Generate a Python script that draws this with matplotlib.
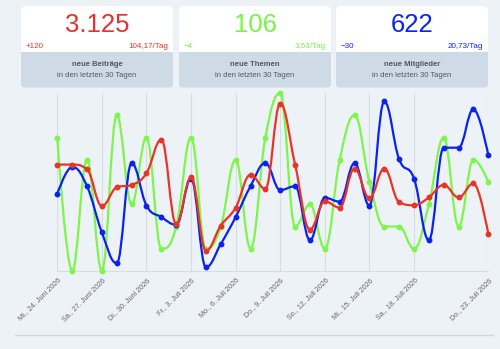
import matplotlib
matplotlib.use("Agg")
import matplotlib.pyplot as plt
import numpy as np
from matplotlib.path import Path
from matplotlib.patches import PathPatch, FancyBboxPatch, Rectangle

plt.rcParams["font.family"] = ["Liberation Sans", "DejaVu Sans"]

# daily values, 24. Juni 2026 .. 23. Juli 2026
posts = [136, 136, 130, 83, 107, 110, 125, 168, 60, 120,
         26, 58, 81, 123, 105, 214, 136, 53, 89, 81,
         131, 93, 131, 88, 84, 94, 110, 94, 112, 47]
topics = [6, 0, 5, 0, 7, 3, 6, 1, 2, 6,
          1, 2, 5, 1, 6, 8, 2, 3, 1, 5,
          7, 4, 2, 2, 1, 3, 6, 2, 5, 4]
members = [20, 27, 22, 10, 2, 28, 17, 14, 12, 24,
           1, 7, 14, 22, 28, 21, 22, 8, 19, 18,
           28, 17, 44, 29, 24, 8, 32, 32, 42, 30]

tick_days = [0, 3, 6, 9, 12, 15, 18, 21, 24, 29]
tick_labels = ["Mi., 24. Juni 2026", "Sa., 27. Juni 2026", "Di., 30. Juni 2026",
               "Fr., 3. Juli 2026", "Mo., 6. Juli 2026", "Do., 9. Juli 2026",
               "So., 12. Juli 2026", "Mi., 15. Juli 2026", "Sa., 18. Juli 2026",
               "Do., 23. Juli 2026"]

cards = [
    ("3.125", "+120", "104,17/Tag", "neue Beiträge", "#e8302a"),
    ("106", "\u22124", "3,53/Tag", "neue Themen", "#77f542"),
    ("622", "\u221230", "20,73/Tag", "neue Mitglieder", "#0a24f0"),
]

BG = "#edf2f7"
W, H = 500, 349

fig = plt.figure(figsize=(5, 3.49), dpi=100)
fig.patch.set_facecolor(BG)

# chart area in pixels
x0, x1 = 57.3, 488.3
ytop, ybot = 93, 271
rect = [x0 / W, (H - ybot) / H, (x1 - x0) / W, (ybot - ytop) / H]


def spline_path(xs, ys, smoothing=1.5):
    # highcharts-like spline: flat tangents at local peaks
    xs = list(map(float, xs))
    ys = list(map(float, ys))
    n = len(xs)
    denom = smoothing + 1
    lc = [None] * n
    rc = [None] * n
    for i in range(1, n - 1):
        x, y = xs[i], ys[i]
        lx, ly = xs[i - 1], ys[i - 1]
        nx, ny = xs[i + 1], ys[i + 1]
        lcx = (smoothing * x + lx) / denom
        lcy = (smoothing * y + ly) / denom
        rcx = (smoothing * x + nx) / denom
        rcy = (smoothing * y + ny) / denom
        corr = (rcy - lcy) * (rcx - x) / (rcx - lcx) + y - rcy
        lcy += corr
        rcy += corr
        if lcy > ly and lcy > y:
            lcy = max(ly, y)
            rcy = 2 * y - lcy
        elif lcy < ly and lcy < y:
            lcy = min(ly, y)
            rcy = 2 * y - lcy
        if rcy > ny and rcy > y:
            rcy = max(ny, y)
            lcy = 2 * y - rcy
        elif rcy < ny and rcy < y:
            rcy = min(ny, y)
            lcy = 2 * y - rcy
        lc[i] = (lcx, lcy)
        rc[i] = (rcx, rcy)
    verts = [(xs[0], ys[0])]
    codes = [Path.MOVETO]
    for i in range(1, n):
        a = rc[i - 1] or (xs[i - 1], ys[i - 1])
        b = lc[i] or (xs[i], ys[i])
        verts += [a, b, (xs[i], ys[i])]
        codes += [Path.CURVE4] * 3
    return Path(verts, codes)


days = np.arange(len(posts))
series = [(topics, 8, "#7ef54a"), (members, 46.2, "#0a22f0"), (posts, 227.5, "#ea3325")]

base = fig.add_axes(rect)
base.set_facecolor("none")
base.set_xlim(0, 29)
base.set_ylim(0, 1)
base.set_yticks([])
base.set_xticks(tick_days)
base.set_xticklabels(tick_labels, rotation=45, ha="right", rotation_mode="anchor",
                     fontsize=5.2, color="#666666")
base.tick_params(axis="x", length=0, pad=4)
base.grid(axis="x", color="#d8dde2", linewidth=0.8)
for s in ["top", "right", "left"]:
    base.spines[s].set_visible(False)
base.spines["bottom"].set_color("#d8dde2")

for vals, ymax, col in series:
    ax = base.twinx()
    ax.set_ylim(0, ymax)
    ax.set_xlim(0, 29)
    ax.axis("off")
    p = spline_path(days, vals)
    ax.add_patch(PathPatch(p, facecolor="none", edgecolor=col, lw=1.6,
                           capstyle="round", joinstyle="round", clip_on=False))
    ax.plot(days, vals, "o", color=col, ms=3.2, clip_on=False)

# overlay in pixel coordinates for the cards
ov = fig.add_axes([0, 0, 1, 1])
ov.set_xlim(0, W)
ov.set_ylim(H, 0)
ov.axis("off")
ov.set_zorder(-1)

ov.plot([15, 493], [335, 335], color="#d3d8dd", lw=1)

card_x = [21, 179, 336]
cw = 152
for (big, delta, rate, title, col), cx in zip(cards, card_x):
    ov.add_patch(FancyBboxPatch((cx, 6), cw, 81.5, boxstyle="round,pad=0,rounding_size=4",
                                facecolor="#cedbe7", edgecolor="none"))
    ov.add_patch(FancyBboxPatch((cx, 6), cw, 46, boxstyle="round,pad=0,rounding_size=4",
                                facecolor="white", edgecolor="none"))
    ov.add_patch(Rectangle((cx, 40), cw, 12.3, facecolor="white", edgecolor="none"))
    ov.text(cx + cw / 2, 24.5, big, color=col, fontsize=18.5, ha="center", va="center")
    ov.text(cx + 5, 46, delta, color=col, fontsize=5.8, ha="left", va="center")
    ov.text(cx + cw - 5, 46, rate, color=col, fontsize=5.8, ha="right", va="center")
    ov.text(cx + cw / 2, 64.5, title, color="#4f5966", fontsize=5.5, ha="center",
            va="center", fontweight="bold")
    ov.text(cx + cw / 2, 75.5, "in den letzten 30 Tagen", color="#4f5966", fontsize=5.5,
            ha="center", va="center")

fig.savefig("out.png", dpi=100, facecolor=BG)
